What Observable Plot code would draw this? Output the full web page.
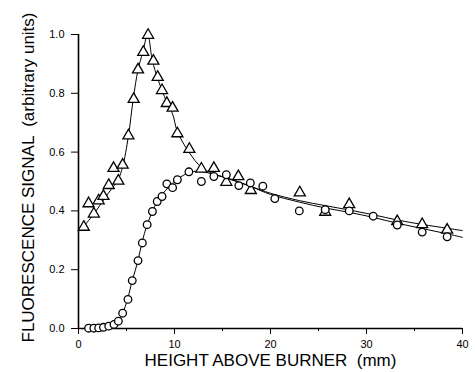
<!DOCTYPE html>
<html>
<head>
<meta charset="utf-8">
<script src="https://cdn.jsdelivr.net/npm/d3@7"></script>
<script src="https://cdn.jsdelivr.net/npm/@observablehq/plot@0.6"></script>
<style>
  html, body { margin: 0; padding: 0; background: #fff; }
  svg { display: block; }
</style>
</head>
<body>
<div id="chart"></div>
<script>
// Triangle series (measured points)
const triX = [0.55, 1.05, 1.6, 2.1, 2.6, 3.15, 3.65, 4.15, 4.6, 5.2, 5.75, 6.2, 6.75, 7.25, 7.8, 8.25, 8.7, 9.2, 9.8, 10.3, 11.55, 12.8, 14.1, 15.4, 16.65, 17.95, 23.05, 25.7, 28.2, 33.2, 35.8, 38.4];
const triY = [0.345, 0.425, 0.39, 0.435, 0.45, 0.487, 0.545, 0.502, 0.556, 0.656, 0.78, 0.88, 0.94, 0.998, 0.91, 0.855, 0.81, 0.766, 0.75, 0.663, 0.61, 0.543, 0.545, 0.498, 0.517, 0.47, 0.462, 0.396, 0.422, 0.364, 0.354, 0.335];
// Circle series (measured points)
const circX = [1.05, 1.6, 2.1, 2.6, 3.15, 3.7, 4.15, 4.6, 5.15, 5.6, 6.2, 6.65, 7.15, 7.7, 8.2, 8.7, 9.2, 9.8, 10.3, 11.5, 12.8, 14.1, 15.4, 16.7, 17.9, 19.2, 20.45, 23.0, 25.7, 28.2, 30.7, 33.2, 35.8, 38.4];
const circY = [0.001, 0.001, 0.002, 0.004, 0.008, 0.014, 0.025, 0.052, 0.099, 0.163, 0.231, 0.291, 0.353, 0.398, 0.432, 0.449, 0.492, 0.479, 0.506, 0.533, 0.50, 0.517, 0.523, 0.486, 0.495, 0.484, 0.442, 0.40, 0.404, 0.40, 0.382, 0.352, 0.328, 0.312];
// Fitted curves
const triFitX = [0.5, 1.6, 3.1, 4.1, 4.6, 5.2, 5.7, 6.2, 6.7, 7.2, 7.7, 8.2, 8.7, 9.2, 9.8, 10.3, 11.5, 12.8, 14, 16, 18, 20, 23, 25.7, 28.2, 30.7, 33.2, 35.8, 38.4, 40];
const triFitY = [0.345, 0.39, 0.46, 0.505, 0.55, 0.655, 0.78, 0.88, 0.94, 1.0, 0.91, 0.855, 0.81, 0.77, 0.73, 0.67, 0.6, 0.548, 0.527, 0.507, 0.483, 0.46, 0.435, 0.418, 0.403, 0.387, 0.369, 0.354, 0.341, 0.333];
const circFitX = [1, 2, 3, 3.7, 4.1, 4.6, 5.1, 5.6, 6.2, 6.6, 7.15, 7.7, 8.2, 8.7, 9.5, 10.3, 11.5, 12.5, 14, 16, 18, 20, 23, 25.7, 28.2, 30.7, 33.2, 35.8, 38.4, 40];
const circFitY = [0.0, 0.002, 0.007, 0.014, 0.025, 0.052, 0.099, 0.163, 0.231, 0.291, 0.353, 0.398, 0.432, 0.455, 0.485, 0.508, 0.53, 0.535, 0.525, 0.505, 0.482, 0.456, 0.43, 0.41, 0.395, 0.378, 0.358, 0.34, 0.322, 0.31];
// Ticks and labels
const xMajor = [0, 10, 20, 30, 40];
const xMinor = [5, 15, 25, 35];
const yTicks = [0, 0.2, 0.4, 0.6, 0.8, 1.0];
const xLabel = "HEIGHT ABOVE BURNER \u00a0(mm)";
const yLabel = "FLUORESCENCE SIGNAL \u00a0(arbitrary units)";

const zip = (xs, ys) => xs.map((x, i) => ({x, y: ys[i]}));
const tri = zip(triX, triY), circ = zip(circX, circY);
const triFit = zip(triFitX, triFitY), circFit = zip(circFitX, circFitY);

const chart = Plot.plot({
  width: 475,
  height: 372,
  marginLeft: 78,
  marginRight: 13,
  marginTop: 34,
  marginBottom: 44,
  style: {fontFamily: "'Liberation Sans', Arial, sans-serif", fontSize: "11px", color: "black", background: "white"},
  x: {domain: [0, 40], axis: null},
  y: {domain: [0, 1], axis: null},
  marks: [
    Plot.line(triFit, {x: "x", y: "y", curve: "catmull-rom", stroke: "black", strokeWidth: 1}),
    Plot.line(circFit, {x: "x", y: "y", curve: "catmull-rom", stroke: "black", strokeWidth: 1}),
    Plot.ruleX([0], {stroke: "black", strokeWidth: 1.6}),
    Plot.ruleY([0], {stroke: "black", strokeWidth: 1.6}),
    Plot.axisY({ticks: yTicks, tickSize: 7, tickPadding: 7, tickFormat: d => d.toFixed(1), label: null, fontSize: 11}),
    Plot.axisX({ticks: xMajor, tickSize: 6, tickPadding: 6, label: null, fontSize: 11}),
    Plot.axisX({ticks: xMinor, tickSize: 3, tickFormat: () => "", label: null}),
    Plot.dot(tri, {x: "x", y: "y", symbol: "triangle", r: 4.1, fill: "white", stroke: "black", strokeWidth: 1.3}),
    Plot.dot(circ, {x: "x", y: "y", symbol: "circle", r: 3.8, fill: "white", stroke: "black", strokeWidth: 1.3}),
    Plot.text([xLabel], {frameAnchor: "bottom", lineAnchor: "middle", textAnchor: "middle", dy: 32, fontSize: 17, fill: "black"}),
    Plot.text([yLabel], {frameAnchor: "left", lineAnchor: "middle", textAnchor: "middle", dx: -50, dy: -4, rotate: -90, fontSize: 17, fill: "black"})
  ]
});
document.getElementById("chart").appendChild(chart);
</script>
</body>
</html>
